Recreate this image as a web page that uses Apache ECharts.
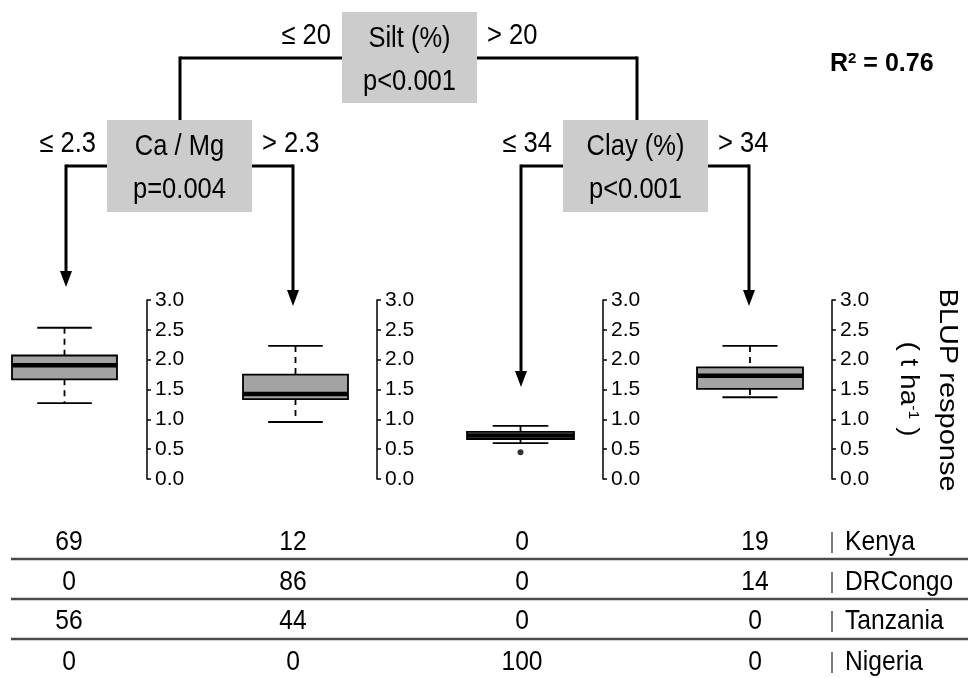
<!DOCTYPE html>
<html>
<head>
<meta charset="utf-8">
<script src="https://cdn.jsdelivr.net/npm/echarts@6/dist/echarts.min.js"></script>
<style>
  html, body { margin: 0; padding: 0; background: #fff; }
  #chartContainer { width: 968px; height: 678px; }
</style>
</head>
<body>
<div id="chartContainer"></div>
<script>
'use strict';
// terminal node boxplot stats (t/ha)
const whiskerLow = [1.27, 0.955, 0.60, 1.37];
const q1 = [1.67, 1.34, 0.67, 1.51];
const median = [1.905, 1.425, 0.73, 1.73];
const q3 = [2.07, 1.75, 0.79, 1.87];
const whiskerHigh = [2.535, 2.23, 0.89, 2.23];
const outliers = [[2, 0.45]];   // [node index, value]
const yTicks = [0, 0.5, 1, 1.5, 2, 2.5, 3];

// inner nodes of the tree
const nodeTitles = ['Silt (%)', 'Ca / Mg', 'Clay (%)'];
const nodePvalues = ['p<0.001', 'p=0.004', 'p<0.001'];
const splitLeft = ['\u2264 20', '\u2264 2.3', '\u2264 34'];
const splitRight = ['> 20', '> 2.3', '> 34'];

// share of sites (%) per country in each terminal node
const countries = ['Kenya', 'DRCongo', 'Tanzania', 'Nigeria'];
const kenya = [69, 12, 0, 19];
const drCongo = [0, 86, 0, 14];
const tanzania = [56, 44, 0, 0];
const nigeria = [0, 0, 100, 0];
const shares = [kenya, drCongo, tanzania, nigeria];

let initChart = (function() {
    let chartContainer = document.getElementById('chartContainer');
    let chart = echarts.init(chartContainer);
    let font = "'Liberation Sans', Arial, Helvetica, sans-serif";

    // layout
    let boxLeft = [12, 243, 467, 697];
    let boxW = [105, 105, 107, 106];
    let axisX = [147, 377, 603, 832];
    let tableX = [69, 293, 522, 755];
    let rowY = [542, 582, 621, 662];
    let ruleY = [559, 599, 639];
    // node boxes: x, y, w, h
    let nodes = [[342, 12, 135, 91], [107, 120, 145, 92], [563, 120, 145, 92]];

    let grids = [], xAxes = [], yAxes = [], series = [];
    for (let i = 0; i < 4; i++) {
        grids.push({ left: boxLeft[i], top: 300, width: boxW[i], height: 179 });
        xAxes.push({ type: 'category', gridIndex: i, data: [''], show: false });
        yAxes.push({
            type: 'value', gridIndex: i, position: 'right',
            offset: axisX[i] - boxLeft[i] - boxW[i],
            min: yTicks[0], max: yTicks[yTicks.length - 1], interval: 0.5,
            axisLine: { show: true, lineStyle: { color: '#000', width: 1.5 } },
            axisTick: { show: true, length: 4, lineStyle: { color: '#000', width: 1.5 } },
            axisLabel: {
                margin: 8, color: '#000', fontSize: 21, fontFamily: font,
                formatter: v => v.toFixed(1)
            },
            splitLine: { show: false }
        });
        series.push({
            type: 'custom',
            xAxisIndex: i, yAxisIndex: i,
            data: [[0, whiskerLow[i], q1[i], median[i], q3[i], whiskerHigh[i]]],
            renderItem: function(params, api) {
                let x = api.value(0);
                let lw = api.coord([x, api.value(1)]);
                let lo = api.coord([x, api.value(2)]);
                let md = api.coord([x, api.value(3)]);
                let hi = api.coord([x, api.value(4)]);
                let uw = api.coord([x, api.value(5)]);
                let w = api.size([1, 0])[0];
                let cx = lo[0], half = w / 2, cap = w * 0.26;
                let thin = { stroke: '#000', lineWidth: 1.8 };
                let dash = { stroke: '#000', lineWidth: 1.8, lineDash: [6, 5] };
                return {
                    type: 'group',
                    children: [
                        { type: 'line', shape: { x1: cx, y1: uw[1], x2: cx, y2: hi[1] }, style: dash },
                        { type: 'line', shape: { x1: cx, y1: lo[1], x2: cx, y2: lw[1] }, style: dash },
                        { type: 'line', shape: { x1: cx - cap, y1: uw[1], x2: cx + cap, y2: uw[1] }, style: thin },
                        { type: 'line', shape: { x1: cx - cap, y1: lw[1], x2: cx + cap, y2: lw[1] }, style: thin },
                        { type: 'rect', shape: { x: cx - half, y: hi[1], width: w, height: lo[1] - hi[1] },
                          style: { fill: '#a3a3a3', stroke: '#000', lineWidth: 1.8 } },
                        { type: 'line', shape: { x1: cx - half, y1: md[1], x2: cx + half, y2: md[1] },
                          style: { stroke: '#000', lineWidth: 4.5 } }
                    ]
                };
            }
        });
    }
    outliers.forEach(function(o) {
        series.push({
            type: 'scatter', xAxisIndex: o[0], yAxisIndex: o[0],
            data: [[0, o[1]]], symbol: 'circle', symbolSize: 6,
            itemStyle: { color: '#000' }, silent: true
        });
    });

    // tree drawing
    let g = [];
    let line = (x1, y1, x2, y2, w, c) => g.push({
        type: 'line', shape: { x1: x1, y1: y1, x2: x2, y2: y2 },
        style: { stroke: c || '#000', lineWidth: w || 3 }, silent: true
    });
    // text is slightly condensed in the original figure
    let text = (t, x, y, size, align, extra, sx) => g.push({
        type: 'text', x: x, y: y, scaleX: sx || 0.88, silent: true,
        style: Object.assign({
            text: t, fill: '#000', font: size + 'px ' + font,
            align: align || 'center', verticalAlign: 'middle'
        }, extra || {})
    });
    let arrow = (x, y1, tip) => {
        line(x, y1, x, tip - 12, 3);
        g.push({ type: 'polygon', silent: true,
            shape: { points: [[x - 6, tip - 16], [x + 6, tip - 16], [x, tip]] },
            style: { fill: '#000' } });
    };

    // edges
    line(180, 58, 342, 58); line(477, 58, 637, 58);
    line(180, 56.5, 180, 120); line(637, 56.5, 637, 120);
    line(66, 166, 107, 166); line(252, 166, 293, 166);
    line(521, 166, 563, 166); line(708, 166, 749, 166);
    arrow(66, 164.5, 287);
    arrow(293, 164.5, 306);
    arrow(521, 164.5, 387);
    arrow(749, 164.5, 306);

    nodes.forEach(function(n, i) {
        g.push({ type: 'rect', silent: true,
            shape: { x: n[0], y: n[1], width: n[2], height: n[3] },
            style: { fill: '#cccccc' } });
        text(nodeTitles[i], n[0] + n[2] / 2, n[1] + 27, 29);
        text(nodePvalues[i], n[0] + n[2] / 2, n[1] + 70, 29);
        text(splitLeft[i], n[0] - 11, n[1] + 24, 29, 'right');
        text(splitRight[i], n[0] + n[2] + 10, n[1] + 24, 29, 'left');
    });

    text('R{sup|2} = 0.76', 830, 64, 25, 'left', {
        font: 'bold 25px ' + font,
        rich: { sup: { fontSize: 15, fontWeight: 'bold', fontFamily: font, verticalAlign: 'top', fill: '#000' } }
    }, 1);

    // y axis title, reading downwards
    g.push({ type: 'text', x: 947, y: 390, rotation: -Math.PI / 2, scaleY: 0.9, silent: true,
        style: { text: 'BLUP response', fill: '#000', font: '29px ' + font,
            align: 'center', verticalAlign: 'middle' } });
    g.push({ type: 'text', x: 908, y: 389, rotation: -Math.PI / 2, scaleY: 0.9, silent: true,
        style: { text: '( t ha{sup|-1} )', fill: '#000', font: '28px ' + font,
            align: 'center', verticalAlign: 'middle',
            rich: { sup: { fontSize: 16, fontFamily: font, verticalAlign: 'top', fill: '#000' } } } });

    // country table
    ruleY.forEach(y => line(11, y, 968, y, 2.5, '#4a4a4a'));
    countries.forEach(function(c, r) {
        shares[r].forEach((v, k) => text(String(v), tableX[k], rowY[r], 28));
        line(832, rowY[r] - 10, 832, rowY[r] + 11, 1.2, '#222');
        text(c, 845, rowY[r], 28, 'left');
    });

    let option = {
        backgroundColor: '#fff',
        animation: false,
        grid: grids,
        xAxis: xAxes,
        yAxis: yAxes,
        series: series,
        graphic: g
    };

    chart.setOption(option);
})();
</script>
</body>
</html>
